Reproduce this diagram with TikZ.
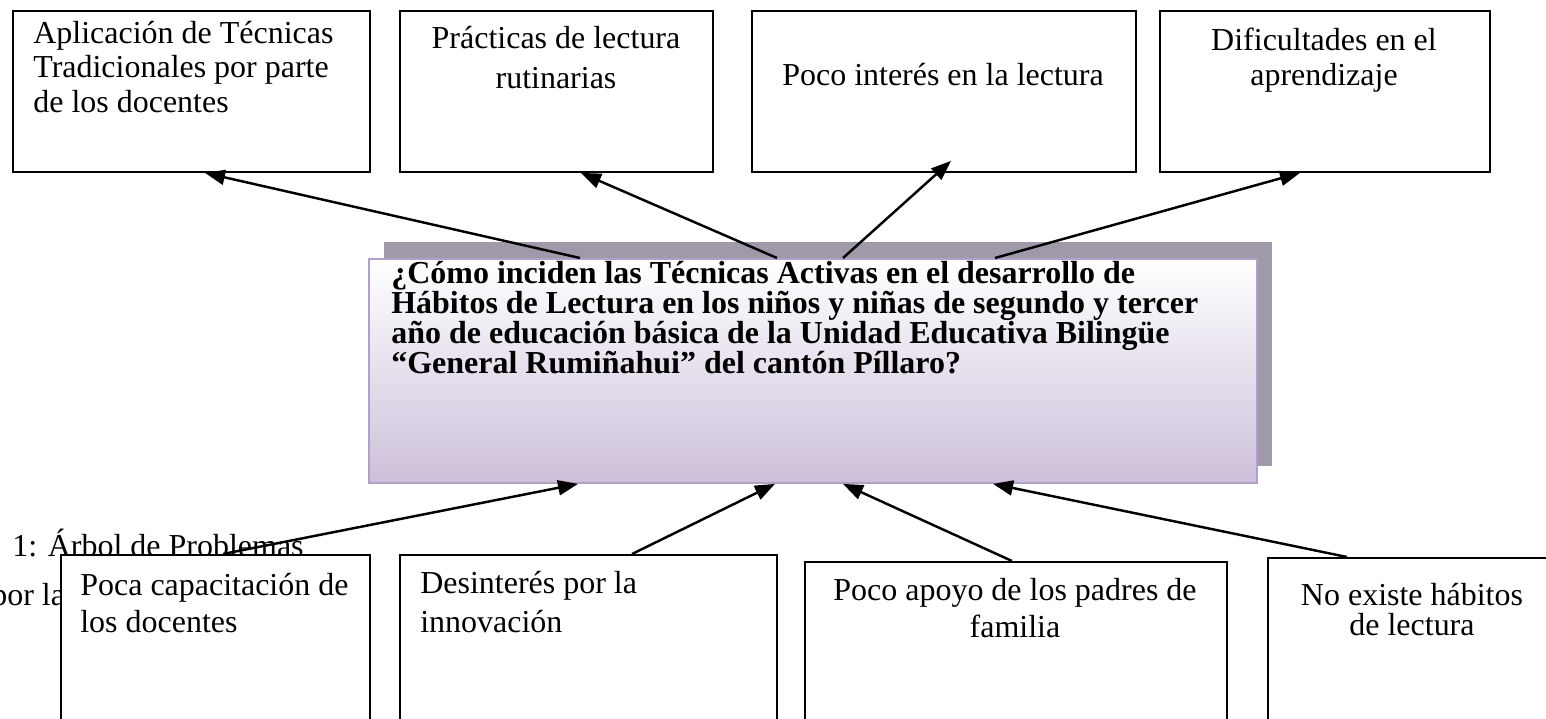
\documentclass[tikz,border=0pt]{standalone}
\usepackage{fontspec}
\setmainfont{Liberation Serif}
\usetikzlibrary{arrows.meta,calc}

\definecolor{lila}{RGB}{204,192,218}
\definecolor{lilaborde}{RGB}{178,161,199}
\definecolor{gris}{RGB}{159,153,170}

\newcommand{\letra}[1]{\fontsize{18.2}{#1}\selectfont\lineskiplimit=-20pt}

\tikzset{
  caja/.style={draw, line width=1.1pt, fill=white, anchor=north west, inner sep=0pt},
  texto/.style={inner sep=0pt},
  flecha/.style={-{Triangle[length=0.4cm,width=0.3cm]}, line width=1.4pt},
}

\begin{document}
\begin{tikzpicture}[x=0.02cm, y=-0.02cm]
        \useasboundingbox (0,0) rectangle (1546,718);

        % Texto suelto que queda debajo de las cajas
        \node[texto, anchor=base west, font=\letra{20pt}] (pie) at (12,556) {1: Árbol de Problemas};
        \node[texto, anchor=base west, font=\letra{20pt}] (pie2) at (-9,605) {por la};

        % Efectos (fila de arriba); el ancla base es la de la ultima linea
        \node[caja, minimum width=7.14cm, minimum height=3.22cm] (e1) at (12,10) {};
        \node[caja, minimum width=6.26cm, minimum height=3.22cm] (e2) at (399,10) {};
        \node[caja, minimum width=7.68cm, minimum height=3.22cm] (e3) at (751,10) {};
        \node[caja, minimum width=6.6cm, minimum height=3.22cm] (e4) at (1159,10) {};
        \node[texto, anchor=base west, align=left, font=\letra{19.6pt}] (e1t) at (33,112)
            {Aplicación de Técnicas\\Tradicionales por parte\\de los docentes};
        \node[texto, anchor=base, align=center, font=\letra{22.7pt}] (e2t) at (556,88)
            {Prácticas de lectura\\rutinarias};
        \node[texto, anchor=base, align=center, font=\letra{19.8pt}] (e3t) at (943,85)
            {Poco interés en la lectura};
        \node[texto, anchor=base, align=center, font=\letra{19.8pt}] (e4t) at (1324,85)
            {Dificultades en el\\aprendizaje};

        % Problema central con su sombra
        \node[fill=gris, anchor=north west, inner sep=0pt, minimum width=17.76cm, minimum height=4.48cm] (sm) at (384,242) {};
        \node[draw=lilaborde, line width=1.1pt, top color=white, bottom color=lila, anchor=north west, inner sep=0pt,
              minimum width=17.76cm, minimum height=4.48cm] (m) at (368,258) {};
        \node[texto, anchor=base west, align=left, font=\bfseries\letra{17pt}] (mt) at (391,373)
            {¿Cómo inciden las Técnicas Activas en el desarrollo de\\
             Hábitos de Lectura en los niños y niñas de segundo y tercer\\
             año de educación básica de la Unidad Educativa Bilingüe\\
             “General Rumiñahui” del cantón Píllaro?};

        % Causas (fila de abajo)
        \node[caja, minimum width=6.18cm, minimum height=4cm] (c1) at (60,554) {};
        \node[caja, minimum width=7.54cm, minimum height=4cm] (c2) at (399,554) {};
        \node[caja, minimum width=8.44cm, minimum height=4cm] (c3) at (804,561) {};
        \node[caja, minimum width=5.82cm, minimum height=4cm] (c4) at (1267,557) {};
        \node[texto, anchor=base west, align=left, font=\letra{21pt}] (c1t) at (80,632)
            {Poca capacitación de\\los docentes};
        \node[texto, anchor=base west, align=left, font=\letra{22.1pt}] (c2t) at (420,632)
            {Desinterés por la\\innovación};
        \node[texto, anchor=base, align=center, font=\letra{21pt}] (c3t) at (1015,637)
            {Poco apoyo de los padres de\\familia};
        \node[texto, anchor=base, align=center, font=\letra{17pt}] (c4t) at (1412,635)
            {No existe hábitos\\de lectura};

        % Flechas hacia los efectos
        \draw[flecha] ($(m.north west)+(212,0)$) -- ($(e1.south west)+(193,0)$);
        \draw[flecha] ($(m.north west)+(409,0)$) -- ($(e2.south west)+(182,0)$);
        \draw[flecha] ($(m.north west)+(475,0)$) -- ($(e3.south west)+(200,-12)$);
        \draw[flecha] ($(m.north west)+(627,0)$) -- ($(e4.south west)+(141,0)$);

        % Flechas desde las causas
        \draw[flecha] ($(c1.north west)+(163,0)$) -- ($(m.south west)+(210,0)$);
        \draw[flecha] ($(c2.north west)+(233,0)$) -- ($(m.south west)+(407,0)$);
        \draw[flecha] ($(c3.north west)+(208,0)$) -- ($(m.south west)+(475,0)$);
        \draw[flecha] ($(c4.north west)+(80,0)$) -- ($(m.south west)+(625,0)$);
    \end{tikzpicture}
\end{document}
